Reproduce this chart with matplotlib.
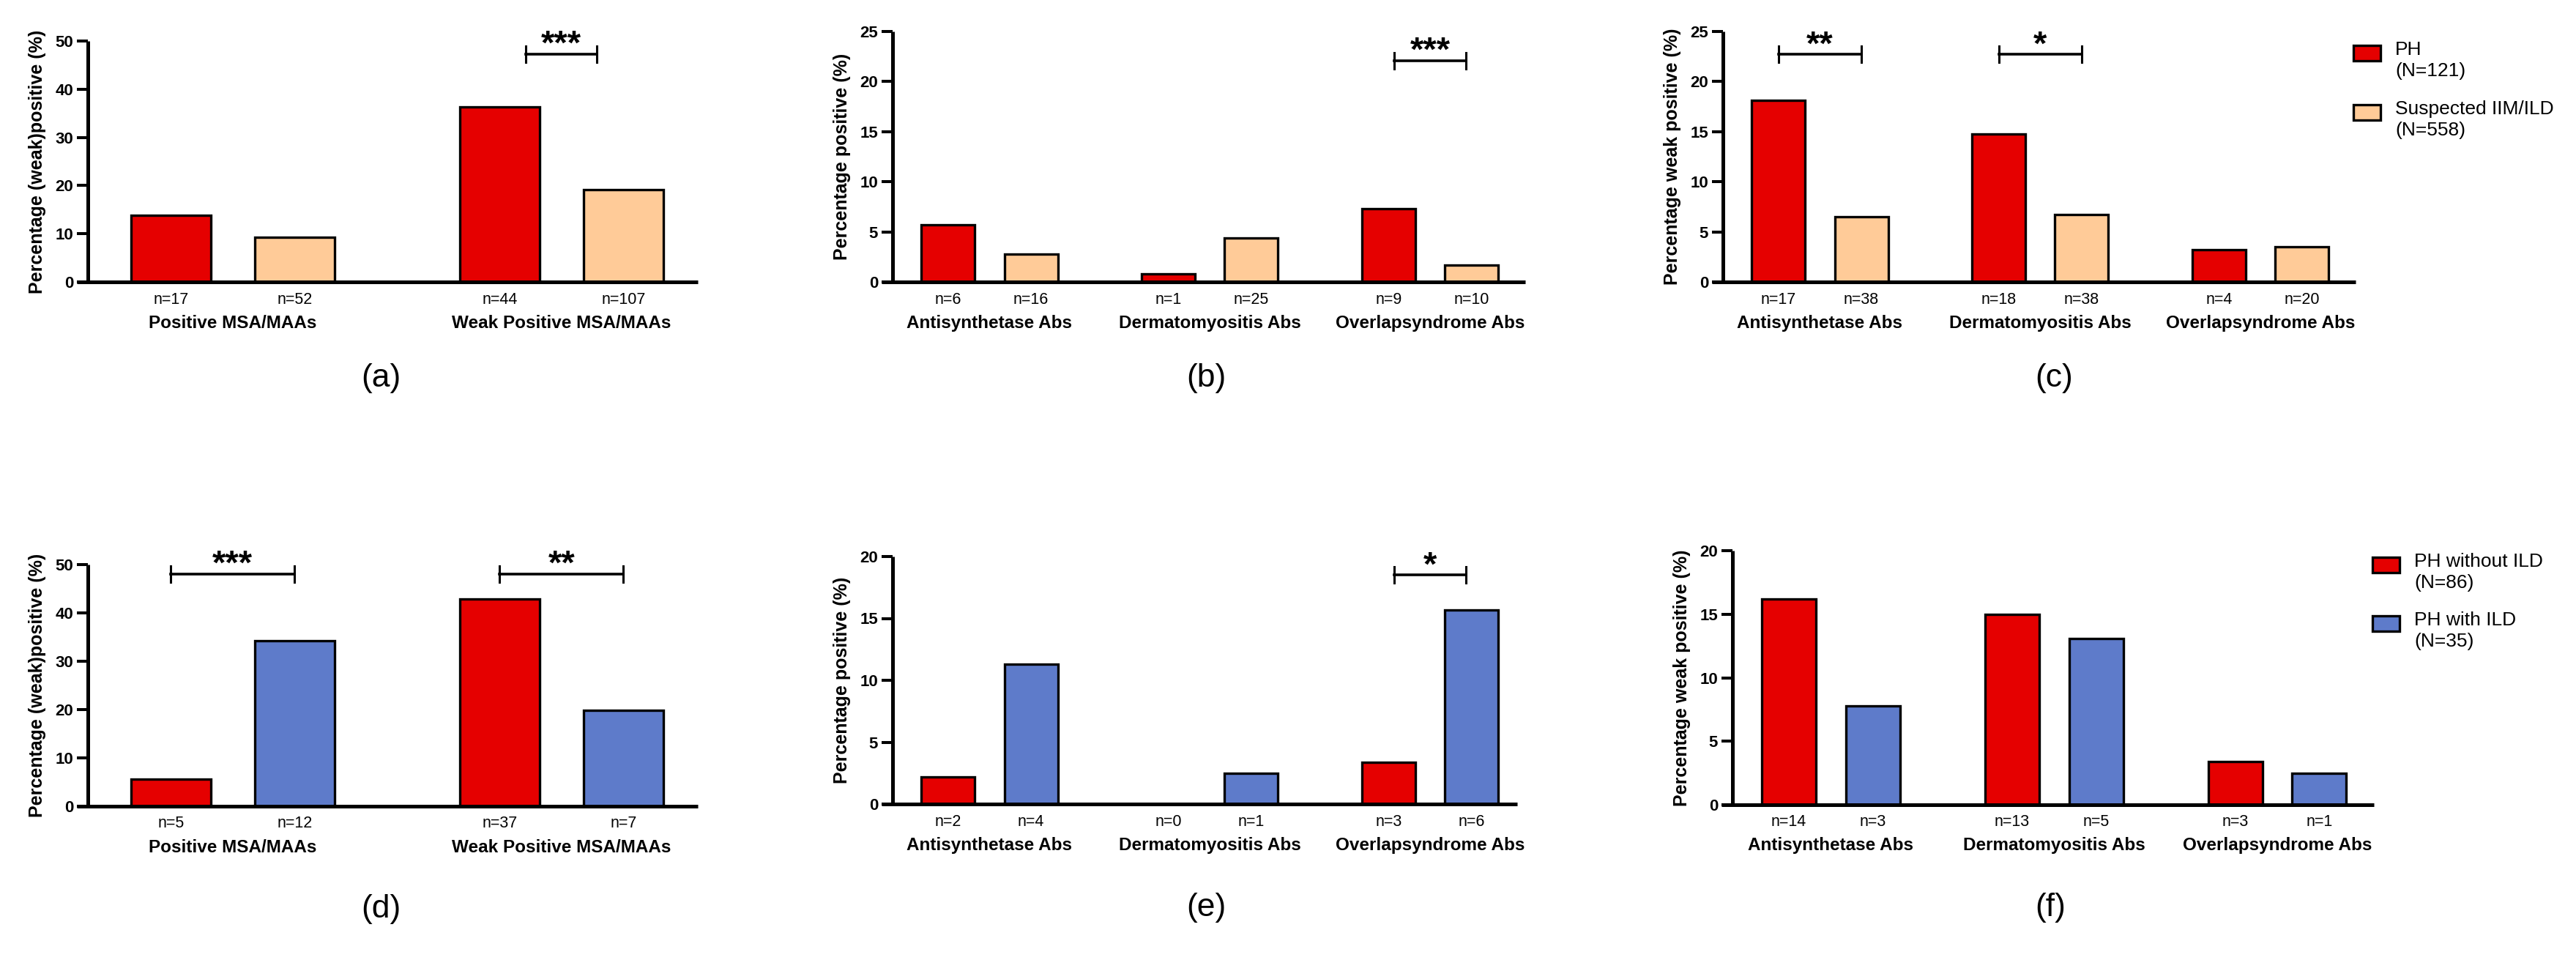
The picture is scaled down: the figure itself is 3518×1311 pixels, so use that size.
import matplotlib
matplotlib.use("Agg")
import matplotlib.pyplot as plt
from matplotlib.patches import Rectangle
from matplotlib.transforms import offset_copy

plt.rcParams['font.family'] = ['Liberation Sans', 'DejaVu Sans']

W, H = 3518, 1311
RED = '#E50000'
PEACH = '#FFCB98'
BLUE = '#5E7BCA'

# --- data ---
groups_msa = ['Positive MSA/MAAs', 'Weak Positive MSA/MAAs']
groups_abs = ['Antisynthetase Abs', 'Dermatomyositis Abs', 'Overlapsyndrome Abs']

# (a) PH vs suspected IIM/ILD, (weak)positive
a_ph = [13.9, 36.3]
a_susp = [9.2, 19.1]
a_n_ph = [17, 44]
a_n_susp = [52, 107]

# (b) positive
b_ph = [5.7, 0.8, 7.3]
b_susp = [2.8, 4.4, 1.7]
b_n_ph = [6, 1, 9]
b_n_susp = [16, 25, 10]

# (c) weak positive
c_ph = [18.1, 14.8, 3.2]
c_susp = [6.5, 6.7, 3.5]
c_n_ph = [17, 18, 4]
c_n_susp = [38, 38, 20]

# (d) PH without vs with ILD, (weak)positive
d_no_ild = [5.6, 42.9]
d_ild = [34.2, 19.9]
d_n_no_ild = [5, 37]
d_n_ild = [12, 7]

# (e) positive
e_no_ild = [2.2, 0.0, 3.4]
e_ild = [11.3, 2.5, 15.7]
e_n_no_ild = [2, 0, 3]
e_n_ild = [4, 1, 6]

# (f) weak positive
f_no_ild = [16.2, 15.0, 3.4]
f_ild = [7.8, 13.1, 2.5]
f_n_no_ild = [14, 13, 3]
f_n_ild = [3, 5, 1]

# significance brackets: (group index, height, stars, inset)
a_sig = [(1, 47.3, '***', 0.33)]
b_sig = [(2, 22.1, '***', 0.1)]
c_sig = [(0, 22.7, '**', 0.0), (1, 22.7, '*', 0.0)]
d_sig = [(0, 48.0, '***', 0.0), (1, 48.0, '**', 0.0)]
e_sig = [(2, 18.5, '*', 0.1)]
f_sig = []

legend1 = [('PH\n(N=121)', RED), ('Suspected IIM/ILD\n(N=558)', PEACH)]
legend2 = [('PH without ILD\n(N=86)', RED), ('PH with ILD\n(N=35)', BLUE)]

fig = plt.figure(figsize=(W / 100, H / 100), dpi=100)


def rect(l, r, y0, ytop):
    return [l / W, 1 - y0 / H, (r - l) / W, (y0 - ytop) / H]


def draw_panel(box, groups, s1, s2, n1, n2, color2, ymax, ystep, ylabel, sigs, bar_px):
    l, r, y0, ytop = box
    ax = fig.add_axes(rect(l, r, y0, ytop))
    h_px = y0 - ytop
    xmax = (r - l) / bar_px
    pos1 = [1.04 + g * 4.12 for g in range(len(groups))]
    pos2 = [p + 1.55 for p in pos1]

    ax.bar(pos1, s1, width=1.0, color=RED, edgecolor='black', linewidth=2.4, zorder=2)
    ax.bar(pos2, s2, width=1.0, color=color2, edgecolor='black', linewidth=2.4, zorder=2)

    ax.set_xlim(0, xmax)
    ax.set_ylim(0, ymax)
    ax.set_yticks(range(0, ymax + 1, ystep))
    ax.set_xticks([])
    for sp in ['top', 'right', 'bottom']:
        ax.spines[sp].set_visible(False)
    ax.spines['left'].set_linewidth(3.6)
    ax.spines['left'].set_capstyle('butt')
    ax.tick_params(axis='y', length=10.8, width=2.9, labelsize=16, pad=3.5)
    for t in ax.get_yticklabels():
        t.set_fontweight('bold')
    # x axis line, runs out past the y axis like the tick marks
    ax.plot([-15 / bar_px, xmax], [0, 0], color='black', lw=3.6,
            clip_on=False, solid_capstyle='butt', zorder=5)

    ax.set_ylabel(ylabel, fontsize=18, fontweight='bold')
    ax.yaxis.set_label_coords(-57 / (r - l), 0.5)

    tr_n = offset_copy(ax.get_xaxis_transform(), fig, y=-24, units='dots')
    tr_g = offset_copy(ax.get_xaxis_transform(), fig, y=-56, units='dots')
    for i, g in enumerate(groups):
        ax.text(pos1[i], 0, f'n={n1[i]}', transform=tr_n, ha='center', va='center', fontsize=15.5)
        ax.text(pos2[i], 0, f'n={n2[i]}', transform=tr_n, ha='center', va='center', fontsize=15.5)
        ax.text((pos1[i] + pos2[i]) / 2, 0, g, transform=tr_g, ha='center', va='center',
                fontsize=17.5, fontweight='bold')

    tick_h = 11 / h_px * ymax
    for g, y, stars, inset in sigs:
        x1, x2 = pos1[g] + inset, pos2[g] - inset
        ax.plot([x1, x2], [y, y], color='black', lw=2.6, clip_on=False)
        ax.plot([x1, x1], [y - tick_h, y + tick_h], color='black', lw=2.2, clip_on=False)
        ax.plot([x2, x2], [y - tick_h, y + tick_h], color='black', lw=2.2, clip_on=False)
        ax.text((x1 + x2) / 2, y, stars, ha='center', va='baseline', fontsize=34,
                fontweight='bold', clip_on=False)
    return ax


def draw_legend(entries, x_patch, y_tops):
    for (label, color), yt in zip(entries, y_tops):
        fig.add_artist(Rectangle((x_patch / W, 1 - (yt + 21) / H), 37 / W, 21 / H,
                                 transform=fig.transFigure, facecolor=color,
                                 edgecolor='black', linewidth=2.4))
        fig.text((x_patch + 57) / W, 1 - (yt - 6) / H, label, ha='left', va='top',
                 fontsize=19, linespacing=1.25)


draw_panel((120, 953, 385, 56), groups_msa, a_ph, a_susp, a_n_ph, a_n_susp, PEACH,
           50, 10, 'Percentage (weak)positive (%)', a_sig, 109)
draw_panel((1219, 2083, 385, 43), groups_abs, b_ph, b_susp, b_n_ph, b_n_susp, PEACH,
           25, 5, 'Percentage positive (%)', b_sig, 73)
draw_panel((2353, 3217, 385, 43), groups_abs, c_ph, c_susp, c_n_ph, c_n_susp, PEACH,
           25, 5, 'Percentage weak positive (%)', c_sig, 73)
draw_panel((120, 953, 1101, 771), groups_msa, d_no_ild, d_ild, d_n_no_ild, d_n_ild, BLUE,
           50, 10, 'Percentage (weak)positive (%)', d_sig, 109)
draw_panel((1219, 2072, 1098, 760), groups_abs, e_no_ild, e_ild, e_n_no_ild, e_n_ild, BLUE,
           20, 5, 'Percentage positive (%)', e_sig, 73)
draw_panel((2366, 3242, 1099, 752), groups_abs, f_no_ild, f_ild, f_n_no_ild, f_n_ild, BLUE,
           20, 5, 'Percentage weak positive (%)', f_sig, 74)

draw_legend(legend1, 3214, [62, 143])
draw_legend(legend2, 3240, [761, 841])

for lbl, x, y in [('(a)', 520, 516), ('(b)', 1647, 516), ('(c)', 2805, 516),
                  ('(d)', 520, 1242), ('(e)', 1647, 1240), ('(f)', 2800, 1240)]:
    fig.text(x / W, 1 - y / H, lbl, ha='center', va='center', fontsize=32)

fig.savefig('out.png', dpi=100)
